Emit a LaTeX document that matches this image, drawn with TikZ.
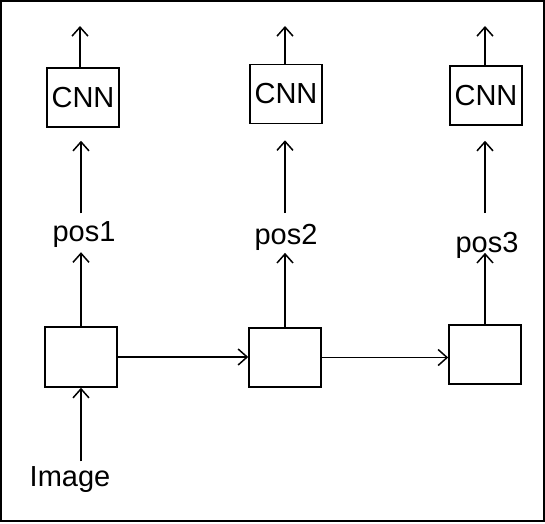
\documentclass[tikz,border=0pt]{standalone}
\usepackage{fontspec}
\setmainfont{Liberation Sans}
\usetikzlibrary{arrows.meta}

\tikzset{
  block/.style={draw, line width=1.5pt, minimum width=72pt, minimum height=59pt, inner sep=0pt},
  flow/.style={line width=1.5pt, -{Straight Barb[length=9pt,width=16pt]}},
  lbl/.style={inner sep=0pt, font=\fontsize{29}{34}\selectfont},
}

\begin{document}
\begin{tikzpicture}[x=1pt, y=-1pt]
\useasboundingbox (0,0) rectangle (545,523);
\draw [line width=1.5pt] (1,1) rectangle (544,521);

% bottom row
\node [block, minimum height=60pt] (box1) at (81,357) {};
\node [block] (box2) at (285,357.5) {};
\node [block] (box3) at (485,354.5) {};
\node [lbl] (img) at (70,480) {Image};

% positions
\node [lbl] (pos1) at (84,235) {pos1};
\node [lbl] (pos2) at (286,237) {pos2};
\node [lbl] (pos3) at (487,245) {pos3};

% CNNs
\node [block, lbl, draw, line width=1.5pt] (cnn1) at (83,97.5) {CNN};
\node [block, lbl, draw, line width=1.5pt] (cnn2) at (286,94) {CNN};
\node [block, lbl, draw, line width=1.5pt] (cnn3) at (486,95.5) {CNN};
\coordinate (out1) at (80,26);
\coordinate (out2) at (285,26);
\coordinate (out3) at (485,26);

\draw [flow, shorten <=5.5pt] (img.north -| box1) -- (box1.south);
\draw [flow] (box1.east) -- (box1.east -| box2.west);
\draw [flow] (box2.east) -- (box2.east -| box3.west);

\draw [flow, shorten >=4pt] (box1.north) -- (box1.north |- pos1.south);
\draw [flow, shorten >=2.5pt] (box2.north) -- (box2.north |- pos2.south);
\draw [flow, shorten >=-5.5pt] (box3.north) -- (box3.north |- pos3.south);

\draw [flow, shorten <=8.5pt, shorten >=13pt] (box1.north |- pos1.north) -- (box1.north |- cnn1.south);
\draw [flow, shorten <=10.5pt, shorten >=16pt] (box2.north |- pos2.north) -- (box2.north |- cnn2.south);
\draw [flow, shorten <=18.5pt, shorten >=15pt] (box3.north |- pos3.north) -- (box3.north |- cnn3.south);

\draw [flow] (cnn1.north -| out1) -- (out1);
\draw [flow] (cnn2.north -| out2) -- (out2);
\draw [flow] (cnn3.north -| out3) -- (out3);
\end{tikzpicture}
\end{document}
